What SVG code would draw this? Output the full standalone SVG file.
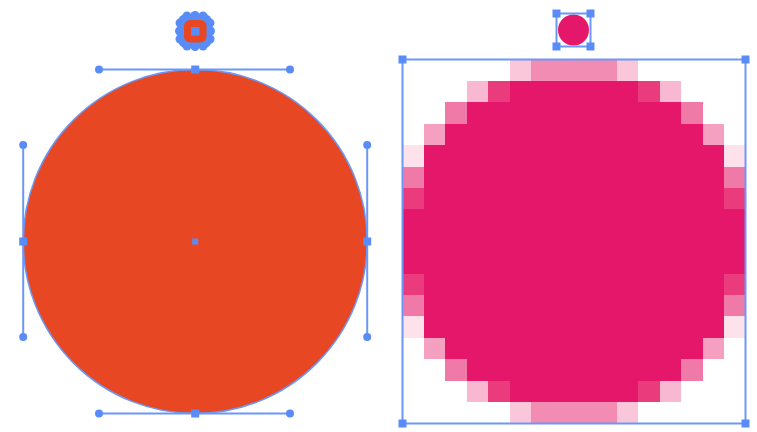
<svg xmlns="http://www.w3.org/2000/svg" width="757" height="432" viewBox="0 0 757 432">
<defs>
<style>
.hl{stroke:#6a97f8;stroke-width:2;fill:none}
.dot{fill:#5a8cf7}
.anc{fill:#5a8cf7}
.box{stroke:#6a97f8;stroke-width:2;fill:none}
.F{fill:#e5176a}.D{fill:#ea3c7c}.M{fill:#f28cb3}.M2{fill:#f07aa7}.M3{fill:#f5a0c0}.L1{fill:#fac7da}.L2{fill:#f8b8d1}.L0{fill:#fde2eb}
</style>
</defs>
<rect width="757" height="432" fill="#ffffff"/>
<g id="vector-circle">
<circle cx="195.2" cy="241.5" r="172" fill="#e84723" stroke="#6a97f8" stroke-width="1.5"/>
<line class="hl" x1="99" y1="69.5" x2="290" y2="69.5"/>
<line class="hl" x1="99" y1="413.5" x2="290" y2="413.5"/>
<line class="hl" x1="23.2" y1="145" x2="23.2" y2="337"/>
<line class="hl" x1="367.2" y1="145" x2="367.2" y2="337"/>
<circle class="dot" cx="99" cy="69.5" r="4"/><circle class="dot" cx="290" cy="69.5" r="4"/>
<circle class="dot" cx="99" cy="413.5" r="4"/><circle class="dot" cx="290" cy="413.5" r="4"/>
<circle class="dot" cx="23.2" cy="145" r="4"/><circle class="dot" cx="23.2" cy="337" r="4"/>
<circle class="dot" cx="367.2" cy="145" r="4"/><circle class="dot" cx="367.2" cy="337" r="4"/>
<rect class="anc" x="191.2" y="65.5" width="8" height="8"/>
<rect class="anc" x="191.2" y="409.5" width="8" height="8"/>
<rect class="anc" x="19.2" y="237.5" width="8" height="8"/>
<rect class="anc" x="363.2" y="237.5" width="8" height="8"/>
<rect class="anc" x="192.2" y="238.5" width="6" height="6"/>
</g>
<g id="vector-circle-small">
<circle class="dot" cx="195" cy="15.5" r="4.5"/><circle class="dot" cx="187" cy="16" r="4.5"/><circle class="dot" cx="203" cy="16" r="4.5"/>
<circle class="dot" cx="195" cy="46.5" r="4.5"/><circle class="dot" cx="187" cy="46" r="4.5"/><circle class="dot" cx="203" cy="46" r="4.5"/>
<circle class="dot" cx="179.5" cy="31" r="4.5"/><circle class="dot" cx="180" cy="23" r="4.5"/><circle class="dot" cx="180" cy="39" r="4.5"/>
<circle class="dot" cx="210.5" cy="31" r="4.5"/><circle class="dot" cx="210" cy="23" r="4.5"/><circle class="dot" cx="210" cy="39" r="4.5"/>
<rect x="178" y="14" width="34" height="34" rx="8" fill="#5a8cf7"/>
<rect x="184" y="20" width="22.5" height="22.5" rx="6" fill="#e84723"/>
<rect class="anc" x="191" y="27" width="8.5" height="8.5"/>
</g>
<g id="pixel-circle">
<g transform="translate(402.5,59.5) scale(21.4375,21.41)" shape-rendering="crispEdges">
<path class="F" d="M5,1H11V2H13V3H14V4H15V7H16V10H15V13H14V14H13V15H11V16H5V15H3V14H2V13H1V10H0V7H1V4H2V3H3V2H5Z"/>
<rect class="L1" x="5" y="0" width="1" height="1"/><rect class="M" x="6" y="0" width="4" height="1"/><rect class="L1" x="10" y="0" width="1" height="1"/>
<rect class="L1" x="5" y="16" width="1" height="1"/><rect class="M" x="6" y="16" width="4" height="1"/><rect class="L1" x="10" y="16" width="1" height="1"/>
<rect class="L2" x="3" y="1" width="1" height="1"/><rect class="D" x="4" y="1" width="1" height="1"/><rect class="D" x="11" y="1" width="1" height="1"/><rect class="L2" x="12" y="1" width="1" height="1"/>
<rect class="L2" x="3" y="15" width="1" height="1"/><rect class="D" x="4" y="15" width="1" height="1"/><rect class="D" x="11" y="15" width="1" height="1"/><rect class="L2" x="12" y="15" width="1" height="1"/>
<rect class="M2" x="2" y="2" width="1" height="1"/><rect class="M2" x="13" y="2" width="1" height="1"/>
<rect class="M2" x="2" y="14" width="1" height="1"/><rect class="M2" x="13" y="14" width="1" height="1"/>
<rect class="M3" x="1" y="3" width="1" height="1"/><rect class="M3" x="14" y="3" width="1" height="1"/>
<rect class="M3" x="1" y="13" width="1" height="1"/><rect class="M3" x="14" y="13" width="1" height="1"/>
<rect class="L0" x="0" y="4" width="1" height="1"/><rect class="L0" x="15" y="4" width="1" height="1"/>
<rect class="L0" x="0" y="12" width="1" height="1"/><rect class="L0" x="15" y="12" width="1" height="1"/>
<rect class="M2" x="0" y="5" width="1" height="1"/><rect class="M2" x="15" y="5" width="1" height="1"/>
<rect class="M2" x="0" y="11" width="1" height="1"/><rect class="M2" x="15" y="11" width="1" height="1"/>
<rect class="D" x="0" y="6" width="1" height="1"/><rect class="D" x="15" y="6" width="1" height="1"/>
<rect class="D" x="0" y="10" width="1" height="1"/><rect class="D" x="15" y="10" width="1" height="1"/>
</g>
<rect class="box" x="402.5" y="59.5" width="343" height="364"/>
<rect class="anc" x="398.5" y="55.5" width="8" height="8"/><rect class="anc" x="741.5" y="55.5" width="8" height="8"/>
<rect class="anc" x="398.5" y="419.5" width="8" height="8"/><rect class="anc" x="741.5" y="419.5" width="8" height="8"/>
</g>
<g id="pixel-circle-small">
<circle cx="573.5" cy="30" r="15.5" fill="#e5176a"/>
<rect class="box" x="556.5" y="13.5" width="34" height="33"/>
<rect class="anc" x="552.5" y="9.5" width="8" height="8"/><rect class="anc" x="586.5" y="9.5" width="8" height="8"/>
<rect class="anc" x="552.5" y="42.5" width="8" height="8"/><rect class="anc" x="586.5" y="42.5" width="8" height="8"/>
</g>
</svg>
